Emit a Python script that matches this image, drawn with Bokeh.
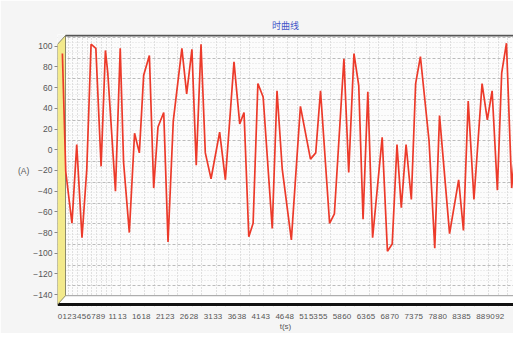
from bokeh.plotting import figure
from bokeh.models import Range1d, FixedTicker, Grid, AllLabels
from bokeh.embed import file_html
from bokeh.resources import INLINE

# ---------------- data ----------------
t_values = [0.5, 1.2, 2.5, 3.5, 4.6, 5.6, 6.5, 7.5, 8.6, 9.5,
            10.0, 11.6, 12.6, 13.3, 14.5, 15.6, 16.6, 17.5, 18.7, 19.6,
            20.5, 21.7, 22.6, 23.7, 25.5, 26.5, 27.6, 28.5, 29.5, 30.4,
            31.6, 33.4, 34.6, 36.4, 37.6, 38.5, 39.5, 40.4, 41.4, 42.5,
            44.4, 45.4, 46.5, 48.4, 50.3, 52.4, 53.5, 54.5, 56.4, 57.4,
            59.4, 60.4, 61.5, 62.5, 63.4, 64.4, 65.4, 67.4, 68.5, 69.5,
            70.5, 71.4, 72.4, 73.5, 74.4, 75.4, 77.2, 78.4, 79.4, 81.5,
            83.4, 84.4, 85.4, 86.6, 88.3, 89.4, 90.4, 91.5, 92.4, 93.4,
            94.5, 95.4, 96.6, 98.1]
current_values = [93, -21, -71, 5, -85, -19, 102, 98, -16, 96,
                  74, -40, 98, -12, -80, 16, -3, 72, 91, -37,
                  22, 36, -89, 28, 98, 54, 97, -15, 102, -3,
                  -28, 17, -29, 85, 25, 36, -84, -71, 64, 51,
                  -76, 57, -19, -87, 42, -9, -3, 57, -71, -62,
                  88, -22, 93, 62, -67, 56, -85, 12, -98, -91,
                  5, -56, 5, -48, 64, 90, 9, -95, 33, -81,
                  -29, -78, 47, -48, 64, 29, 57, -39, 74, 103,
                  -37, 11, -12, -57]

x_ticks = [0, 1, 2, 3, 4, 5, 6, 7, 8, 9, 11, 13, 16, 18, 21, 23, 26, 28,
           31, 33, 36, 38, 41, 43, 46, 48, 51, 53, 55, 58, 60, 63, 65, 68,
           70, 73, 75, 78, 80, 83, 85, 88, 90, 92, 95, 97]
y_ticks = [-140, -120, -100, -80, -60, -40, -20, 0, 20, 40, 60, 80, 100]
y_minor = [v + d for v in y_ticks[:-1] for d in (5, 10, 15)]

title_text = "时曲线"
x_label = "t(s)"
y_label = "(A)"

# ---------------- layout geometry (pixels inside the figure) ----------------
FIG_W, FIG_H = 513, 333
F_L, F_R, F_T, F_B = 57, 513, 34, 311          # frame edges
X0_PX, PX_PER_X = 59.5, 4.78                   # x pixel of t=0, px per second
Y0_PX, PX_PER_Y = 151.4, 1.054                 # y pixel of 0 A, px per amp
DX, DY = 8, 9                                  # 3D depth offset of back wall
WALL_TOP = F_T + 1                             # back wall top border
FLOOR_BACK = 300                               # back edge of the floor
FLOOR_FRONT = 309                              # front (black) edge of the floor


def X(px):
    return (px - X0_PX) / PX_PER_X


def Y(py):
    return (Y0_PX - py) / PX_PER_Y


x_range = Range1d(X(F_L), X(F_R))
y_range = Range1d(Y(F_B), Y(F_T))

p = figure(width=FIG_W, height=FIG_H, x_range=x_range, y_range=y_range,
           output_backend="svg", toolbar_location=None,
           min_border_left=F_L, min_border_right=0,
           min_border_top=F_T, min_border_bottom=FIG_H - F_B,
           title=title_text)

p.extra_x_ranges = {"xb": Range1d(X(F_L) - DX / PX_PER_X, X(F_R) - DX / PX_PER_X)}
p.extra_y_ranges = {"yb": Range1d(Y(F_B) - DY / PX_PER_Y, Y(F_T) - DY / PX_PER_Y)}

p.background_fill_color = "#fcfcfc"
p.border_fill_color = "#f5f5f5"
p.outline_line_color = None
p.grid.visible = False

# title
p.title.text_font = "Noto Sans CJK SC"
p.title.text_font_size = "9px"
p.title.text_font_style = "normal"
p.title.text_color = "#4455c8"
p.title.align = "center"
p.title.offset = 0
p.title.standoff = 6

# back-wall grid
p.add_layout(Grid(dimension=0, ticker=FixedTicker(ticks=x_ticks),
                  x_range_name="xb", y_range_name="yb",
                  grid_line_color="#c4c4c4", grid_line_dash="1 2", grid_line_width=1))
p.add_layout(Grid(dimension=1, ticker=FixedTicker(ticks=y_ticks, minor_ticks=y_minor),
                  x_range_name="xb", y_range_name="yb",
                  grid_line_color="#bcbcbc", grid_line_dash="3 2", grid_line_width=1,
                  minor_grid_line_color="#dedede", minor_grid_line_dash="1 2"))

# 3D decorations: left wall, floor, top border
p.patch([X(F_L), X(F_L + DX), X(F_L)], [Y(F_T), Y(F_T), Y(WALL_TOP + DY)],
        fill_color="#f5f5f5", line_color=None)
p.patch([X(F_R + 10), X(F_L + DX), X(F_L), X(F_R + 10)],
        [Y(FLOOR_BACK), Y(FLOOR_BACK), Y(FLOOR_FRONT), Y(FLOOR_FRONT)],
        fill_color="#ffffff", line_color=None)
p.line([X(F_L + DX), X(F_R + 10)], [Y(FLOOR_BACK), Y(FLOOR_BACK)],
       line_color="#9a9a9a", line_width=1)
p.line([X(F_L), X(F_R + 10)], [Y(FLOOR_FRONT), Y(FLOOR_FRONT)],
       line_color="#111111", line_width=3)
p.patch([X(F_L), X(F_L + DX), X(F_L + DX), X(F_L)],
        [Y(WALL_TOP + DY), Y(WALL_TOP), Y(FLOOR_BACK), Y(FLOOR_FRONT)],
        fill_color="#f3ea8c", line_color="#8c8a6a", line_width=1)
p.line([X(F_L + DX), X(F_R + 10)], [Y(WALL_TOP), Y(WALL_TOP)],
       line_color="#555555", line_width=2)

# data
p.line(t_values, current_values, line_color="#ec3a2a", line_width=1.7)

# axes
p.yaxis.ticker = FixedTicker(ticks=y_ticks)
p.yaxis.axis_line_color = None
p.yaxis.major_tick_out = 3
p.yaxis.major_tick_in = 0
p.yaxis.major_tick_line_color = "#888888"
p.yaxis.minor_tick_line_color = None
p.yaxis.major_label_text_font = "Liberation Sans"
p.yaxis.major_label_text_font_size = "8.5px"
p.yaxis.major_label_text_color = "#555555"
p.yaxis.major_label_standoff = 2
p.yaxis.axis_label = y_label
p.yaxis.axis_label_text_font = "Liberation Sans"
p.yaxis.axis_label_text_font_size = "8.5px"
p.yaxis.axis_label_text_font_style = "normal"
p.yaxis.axis_label_text_color = "#555555"
p.yaxis.axis_label_standoff = 1
try:
    p.yaxis.axis_label_orientation = "horizontal"
except Exception:
    pass

p.xaxis.ticker = FixedTicker(ticks=x_ticks)
p.xaxis.major_label_policy = AllLabels()
p.xaxis.axis_line_color = None
p.xaxis.major_tick_line_color = None
p.xaxis.minor_tick_line_color = None
p.xaxis.major_label_text_font = "Liberation Sans"
p.xaxis.major_label_text_font_size = "8px"
p.xaxis.major_label_text_color = "#555555"
p.xaxis.major_label_standoff = 1
p.xaxis.axis_label = x_label
p.xaxis.axis_label_text_font = "Liberation Sans"
p.xaxis.axis_label_text_font_size = "8px"
p.xaxis.axis_label_text_font_style = "normal"
p.xaxis.axis_label_text_color = "#555555"
p.xaxis.axis_label_standoff = 0

open("out.html", "w").write(file_html(p, INLINE))
